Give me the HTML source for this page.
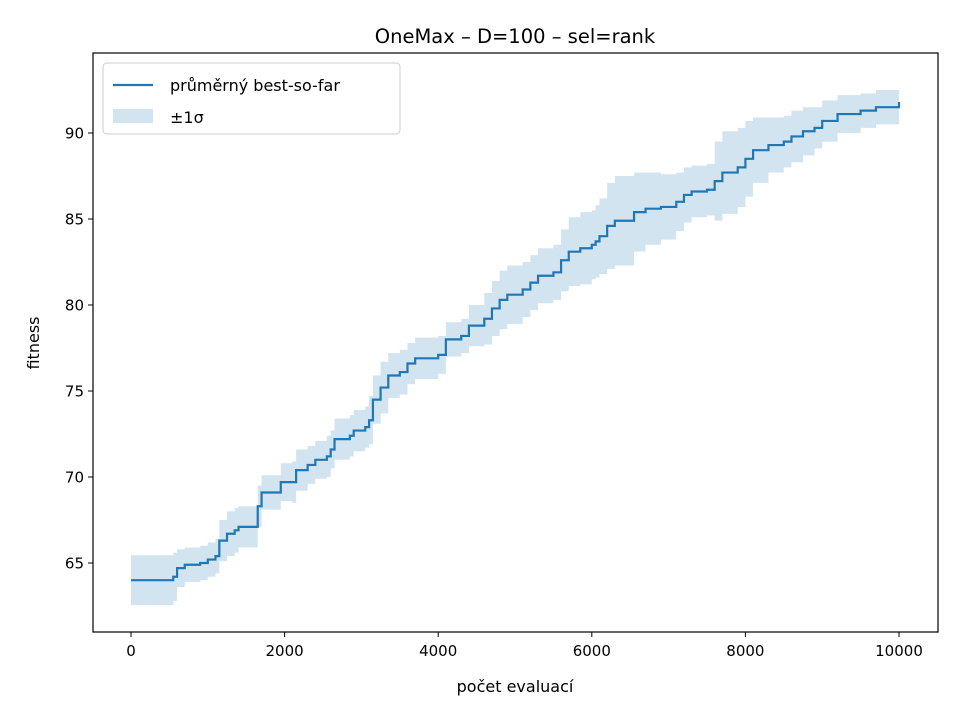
<!DOCTYPE html>
<html><head><meta charset="utf-8"><style>
body{margin:0;background:#fff;font-family:"Liberation Sans","DejaVu Sans",sans-serif;}
svg text{font-family:"DejaVu Sans","Liberation Sans",sans-serif;}
</style></head><body>
<svg id="chart" width="960" height="720" viewBox="0 0 960 720" xmlns="http://www.w3.org/2000/svg">
<rect width="960" height="720" fill="#fff"/>
<text x="515" y="43" font-size="19.5" text-anchor="middle">OneMax – D=100 – sel=rank</text>
<g id="band"></g>
<g id="line"></g>
<rect x="93" y="53" width="845" height="579" fill="none" stroke="#000" stroke-width="1.2"/>
<g id="xticks"></g>
<g id="yticks"></g>
<text x="515" y="692" font-size="16" text-anchor="middle">počet evaluací</text>
<text x="39" y="343" font-size="16" text-anchor="middle" transform="rotate(-90 39 343)">fitness</text>
<g>
<rect x="103" y="63" width="297" height="71" rx="4" fill="#fff" fill-opacity="0.8" stroke="#ccc"/>
<line x1="113" y1="85" x2="153" y2="85" stroke="#1f77b4" stroke-width="2.2"/>
<text x="170" y="91" font-size="16">průměrný best-so-far</text>
<rect x="113" y="109" width="40" height="14" fill="#1f77b4" fill-opacity="0.2"/>
<text x="170" y="123" font-size="16">±1σ</text>
</g>
</svg>
<script>
const evals=[0,550,600,700,900,1000,1100,1150,1250,1350,1400,1600,1650,1700,1900,1950,2100,2150,2300,2400,2550,2600,2650,2850,2900,3050,3100,3150,3250,3350,3500,3600,3700,4000,4100,4300,4400,4600,4700,4800,4900,5100,5200,5300,5500,5600,5700,5850,6000,6050,6100,6200,6300,6550,6700,6900,7100,7200,7300,7500,7600,7700,7900,8000,8100,8300,8500,8600,8750,8900,9000,9200,9500,9700,10000];
const means=[64.0,64.2,64.7,64.9,65.0,65.2,65.4,66.3,66.7,66.9,67.1,67.1,68.3,69.1,69.1,69.7,69.7,70.4,70.7,71.0,71.2,71.6,72.2,72.4,72.7,72.9,73.3,74.5,75.2,75.9,76.1,76.6,76.9,77.1,78.0,78.2,78.8,79.2,79.8,80.3,80.6,80.9,81.3,81.7,81.9,82.6,83.1,83.3,83.5,83.7,84.0,84.6,84.9,85.4,85.6,85.7,86.0,86.4,86.6,86.7,87.2,87.7,88.0,88.5,89.0,89.3,89.5,89.8,90.1,90.3,90.7,91.1,91.3,91.5,91.8];
const sigmas=[1.45,1.4,1.1,1.0,1.0,1.0,1.0,1.2,1.3,1.3,1.2,1.2,1.2,1.0,1.0,1.1,1.2,1.2,1.1,1.1,1.2,1.1,1.2,1.2,1.2,1.2,1.4,1.4,1.5,1.3,1.3,1.2,1.2,1.1,1.0,1.0,1.2,1.5,1.6,1.7,1.7,1.6,1.6,1.6,1.6,1.8,2.0,2.1,2.0,2.1,2.2,2.5,2.6,2.3,2.1,1.9,1.7,1.6,1.5,1.5,2.3,2.4,2.3,2.2,1.9,1.6,1.5,1.5,1.4,1.2,1.2,1.1,1.0,1.0,1.1];
const xTicks=[0,2000,4000,6000,8000,10000];
const yTicks=[65,70,75,80,85,90];
const NS="http://www.w3.org/2000/svg";
const X=v=>131+v*0.0768;
const Y=v=>563-(v-65)*17.2;
function mk(tag,attrs,parent){const e=document.createElementNS(NS,tag);for(const k in attrs)e.setAttribute(k,attrs[k]);parent.appendChild(e);return e;}
// band (step-post)
let up="",lo="";
for(let i=0;i<evals.length;i++){
 const x0=X(evals[i]),x1=X(i<evals.length-1?evals[i+1]:evals[i]);
 up+=(i?"L":"M")+x0+","+Y(means[i]+sigmas[i])+"L"+x1+","+Y(means[i]+sigmas[i]);
}
for(let i=evals.length-1;i>=0;i--){
 const x0=X(evals[i]),x1=X(i<evals.length-1?evals[i+1]:evals[i]);
 lo+="L"+x1+","+Y(means[i]-sigmas[i])+"L"+x0+","+Y(means[i]-sigmas[i]);
}
const band=mk("path",{d:up+lo+"Z",fill:"#1f77b4","fill-opacity":"0.2"},document.getElementById("band"));


let d="";
for(let i=0;i<evals.length;i++){
 const x0=X(evals[i]),x1=X(i<evals.length-1?evals[i+1]:evals[i]);
 d+=(i?"L":"M")+x0+","+Y(means[i])+"L"+x1+","+Y(means[i]);
}
const ln=mk("path",{d:d,fill:"none",stroke:"#1f77b4","stroke-width":"2.2"},document.getElementById("line"));


const gx=document.getElementById("xticks");
xTicks.forEach(t=>{
 const tk=mk("line",{x1:X(t),x2:X(t),y1:632,y2:637,stroke:"#000","stroke-width":"1"},gx);
 
 
 const tx=mk("text",{x:X(t),y:656,"font-size":"15","text-anchor":"middle"},gx);
 tx.textContent=t;
 
 
});
const gy=document.getElementById("yticks");
yTicks.forEach(t=>{
 const tk=mk("line",{x1:88,x2:93,y1:Y(t),y2:Y(t),stroke:"#000","stroke-width":"1"},gy);
 
 
 const tx=mk("text",{x:84,y:Y(t)+5.5,"font-size":"15","text-anchor":"end"},gy);
 tx.textContent=t;
 
 
});
</script>
</body></html>
